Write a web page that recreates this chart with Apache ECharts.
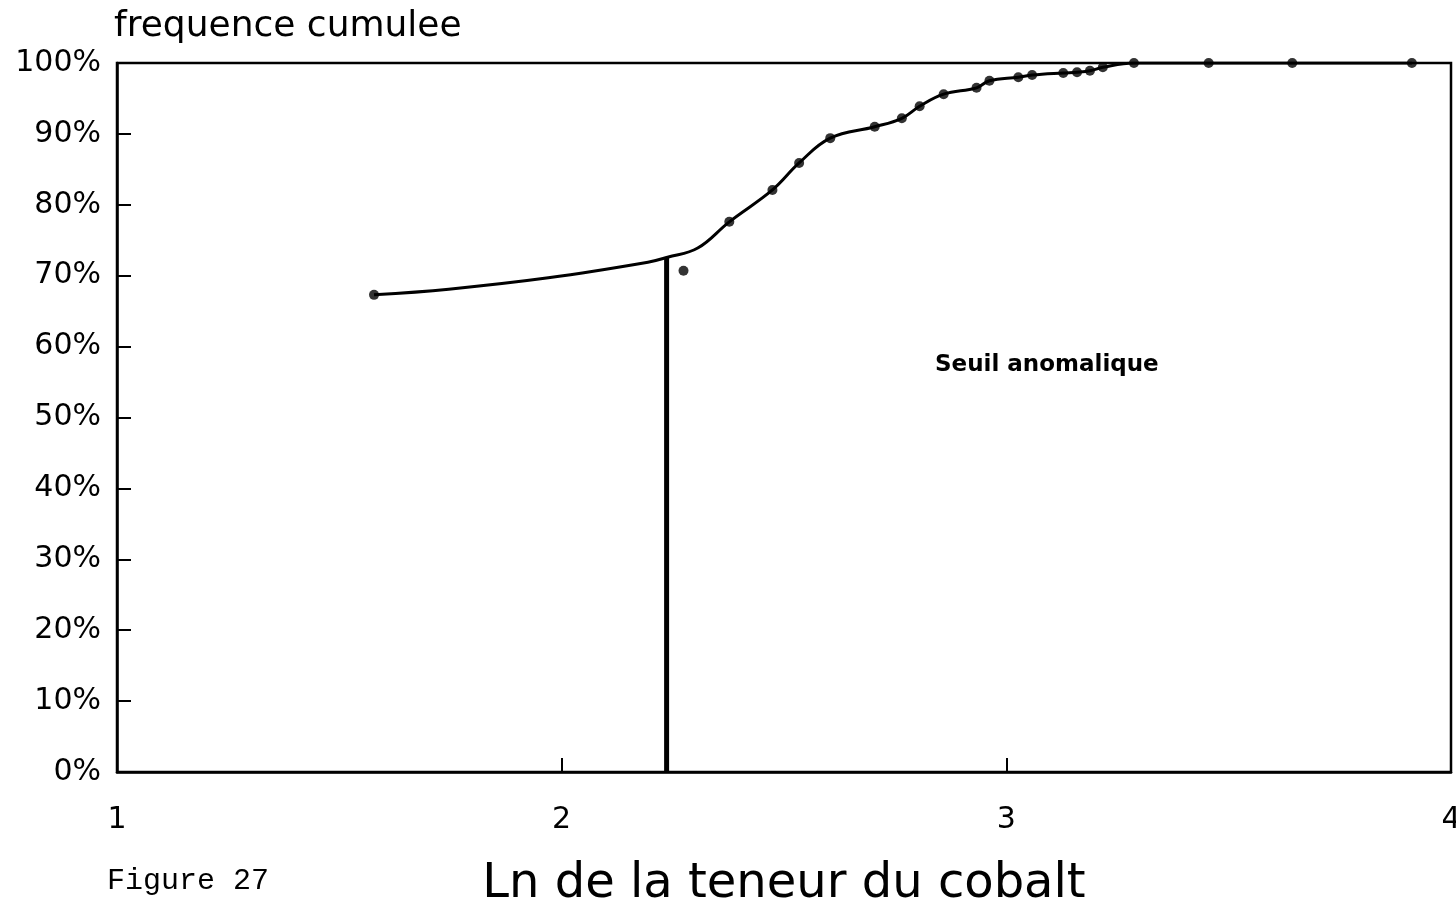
<!DOCTYPE html>
<html>
<head>
<meta charset="utf-8">
<script src="https://cdn.jsdelivr.net/npm/echarts@6/dist/echarts.min.js"></script>
<style>html,body{margin:0;padding:0;background:#fff;overflow:hidden}#c{width:1456px;height:919px}</style>
</head>
<body>
<div id="c"></div>
<script>
// Observed points (markers)
const markerX = [1.578, 2.274, 2.377, 2.474, 2.534, 2.604, 2.704, 2.765, 2.805, 2.859, 2.933, 2.962, 3.027, 3.058, 3.128, 3.159, 3.188, 3.217, 3.287, 3.455, 3.643, 3.912];
const markerY = [67.3, 70.7, 77.6, 82.1, 85.9, 89.4, 91.0, 92.2, 93.9, 95.6, 96.5, 97.5, 98.0, 98.3, 98.6, 98.7, 98.9, 99.4, 100, 100, 100, 100];
// Fitted curve
const curveX = [1.578, 1.746, 1.970, 2.194, 2.238, 2.306, 2.377, 2.474, 2.534, 2.604, 2.704, 2.765, 2.805, 2.859, 2.933, 2.962, 3.027, 3.058, 3.128, 3.159, 3.188, 3.217, 3.287, 3.455, 3.643, 3.912];
const curveY = [67.3, 68.1, 69.7, 71.9, 72.6, 73.9, 77.6, 82.1, 85.9, 89.4, 91.0, 92.2, 93.9, 95.6, 96.5, 97.5, 98.0, 98.3, 98.6, 98.7, 98.9, 99.4, 100, 100, 100, 100];
// Threshold line
const thresholdX = [2.236, 2.236];
const thresholdY = [0, 72.5];
const xTicks = [1, 2, 3, 4];
const yTicks = [0, 10, 20, 30, 40, 50, 60, 70, 80, 90, 100];

const chart = echarts.init(document.getElementById('c'));
const zip = (a, b) => a.map((v, i) => [v, b[i]]);
const axisFont = {color: '#000', fontFamily: 'DejaVu Sans', fontSize: 30};
chart.setOption({
  animation: false,
  backgroundColor: '#fff',
  grid: {left: 117, right: 5, top: 63, bottom: 147, show: true, borderColor: '#000', borderWidth: 2.5, containLabel: false, outerBoundsMode: 'none'},
  xAxis: {
    type: 'value', min: xTicks[0], max: xTicks[xTicks.length - 1], interval: 1,
    axisLine: {lineStyle: {color: '#000', width: 2.5}},
    axisTick: {inside: true, length: 14, lineStyle: {color: '#000', width: 2}},
    splitLine: {show: false},
    axisLabel: Object.assign({margin: 33, showMinLabel: true, showMaxLabel: true, hideOverlap: false}, axisFont),
    name: 'Ln de la teneur du cobalt', nameLocation: 'middle', nameGap: 89,
    nameTextStyle: {color: '#000', fontFamily: 'DejaVu Sans', fontSize: 48}
  },
  yAxis: {
    type: 'value', min: yTicks[0], max: yTicks[yTicks.length - 1], interval: 10,
    axisLine: {lineStyle: {color: '#000', width: 2.5}},
    axisTick: {inside: true, length: 14, lineStyle: {color: '#000', width: 2}},
    splitLine: {show: false},
    axisLabel: Object.assign({margin: 16, formatter: '{value}%'}, axisFont)
  },
  graphic: [
    {type: 'text', left: 114, top: 9, style: {text: 'frequence cumulee', fill: '#000', font: '36px "DejaVu Sans"'}},
    {type: 'text', left: 107, top: 866, style: {text: 'Figure 27', fill: '#000', font: '30px "Liberation Mono"'}},
    {type: 'text', left: 935, top: 354, style: {text: 'Seuil anomalique', fill: '#000', font: 'bold 23px "DejaVu Sans"'}}
  ],
  series: [
    {type: 'line', data: zip(curveX, curveY), smooth: 0.4, showSymbol: false, lineStyle: {color: '#000', width: 3}, z: 2},
    {type: 'scatter', data: zip(markerX, markerY), symbol: 'circle', symbolSize: 10, itemStyle: {color: '#000'}, z: 3},
    {type: 'line', data: zip(thresholdX, thresholdY), showSymbol: false, lineStyle: {color: '#000', width: 5}, z: 2}
  ]
});
</script>
</body>
</html>
